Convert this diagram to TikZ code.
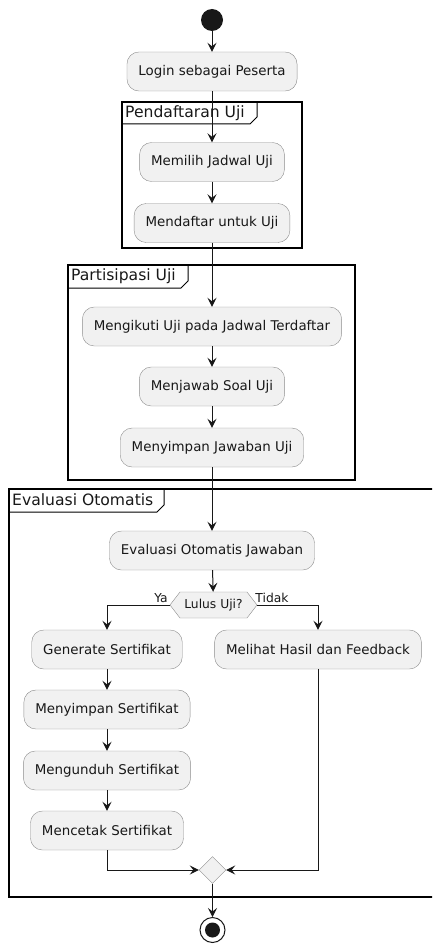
\documentclass[tikz,border=0pt]{standalone}
\usepackage{fontspec}
\setmainfont{DejaVu Sans}
\usetikzlibrary{arrows.meta,positioning,shapes.geometric,shapes.symbols}
\definecolor{actfill}{HTML}{F1F1F1}
\definecolor{ink}{HTML}{181818}

\tikzset{
  act/.style={draw=black!45,fill=actfill,rounded corners=12pt,minimum height=39pt,
    inner xsep=11.5pt,font=\fontsize{13.4}{16}\selectfont,text=ink},
  flow/.style={ink,line width=1pt,-{Stealth[length=9pt,width=9pt,inset=3.5pt]}},
  part/.style={black,line width=1.5pt},
  tab/.style={black,line width=1pt},
  ttl/.style={anchor=west,font=\fontsize{15.6}{18}\selectfont,inner sep=0pt,text=ink},
  lbl/.style={font=\fontsize{12.3}{14}\selectfont,text=ink,inner sep=1pt},
}

\begin{document}
\begin{tikzpicture}[x=1pt,y=-1pt]
\clip (0,0) rectangle (432,947);
% partitions
\draw[part] (122,102) rectangle (302,248);
\draw[tab] (122,124) -- (250,124) -- (257,117) -- (257,102);
\node[ttl] (tPend) at (125,113) {Pendaftaran Uji};
\draw[part] (68,265) rectangle (355,480);
\draw[tab] (68,288) -- (181,288) -- (188,281) -- (188,265);
\node[ttl] (tPart) at (71,276) {Partisipasi Uji};
\draw[part] (9,489) rectangle (445,897);
\draw[tab] (9,512) -- (157,512) -- (164,505) -- (164,489);
\node[ttl] (tEval) at (12,500) {Evaluasi Otomatis};

% activities
\node[circle,fill=ink,minimum size=22pt,inner sep=0pt] (start) at (212,20) {};
\node[act] (login) at (212,71.5) {Login sebagai Peserta};
\node[act] (pilih) at (212,162) {Memilih Jadwal Uji};
\node[act] (daftar) at (212,223) {Mendaftar untuk Uji};
\node[act] (ikut) at (212,326.5) {Mengikuti Uji pada Jadwal Terdaftar};
\node[act] (jawab) at (212,386.5) {Menjawab Soal Uji};
\node[act] (simpanJwb) at (212,447.5) {Menyimpan Jawaban Uji};
\node[act] (evaluasi) at (212,550.5) {Evaluasi Otomatis Jawaban};
\node[signal,signal to=east and west,signal pointer angle=105,draw=black!45,fill=actfill,
  minimum width=87pt,minimum height=26pt,inner sep=1pt,
  font=\fontsize{12.3}{14}\selectfont,text=ink] (lulus) at (213.5,605) {Lulus Uji?};
\node[lbl] (ya) at (161,598) {Ya};
\node[lbl] (tidak) at (272,598) {Tidak};
\node[act] (generate) at (107,649.5) {Generate Sertifikat};
\node[act] (hasil) at (318,649.5) {Melihat Hasil dan Feedback};
\node[act] (simpanSert) at (107,709.5) {Menyimpan Sertifikat};
\node[act] (unduh) at (107,770.5) {Mengunduh Sertifikat};
\node[act] (cetak) at (107,830.5) {Mencetak Sertifikat};
\node[diamond,draw=black!45,fill=actfill,minimum size=27pt,inner sep=0pt] (merge) at (212.5,870) {};
\node[circle,draw=ink,line width=1pt,fill=white,minimum size=25pt,inner sep=0pt] (stop) at (212.5,930) {};
\node[circle,fill=ink,minimum size=15pt,inner sep=0pt] (stopDot) at (stop) {};

% flows
\draw[flow] (start) -- (login);
\draw[flow] (login) -- (pilih);
\draw[flow] (pilih) -- (daftar);
\draw[flow] (daftar) -- (ikut);
\draw[flow] (ikut) -- (jawab);
\draw[flow] (jawab) -- (simpanJwb);
\draw[flow] (simpanJwb) -- (evaluasi);
\draw[flow] (evaluasi) -- (lulus);
\draw[flow] (lulus.west) -| (generate.north);
\draw[flow] (lulus.east) -| (hasil.north);
\draw[flow] (generate) -- (simpanSert);
\draw[flow] (simpanSert) -- (unduh);
\draw[flow] (unduh) -- (cetak);
\draw[flow] (cetak.south) |- (merge.west);
\draw[flow] (hasil.south) |- (merge.east);
\draw[flow] (merge) -- (stop);
\end{tikzpicture}
\end{document}
